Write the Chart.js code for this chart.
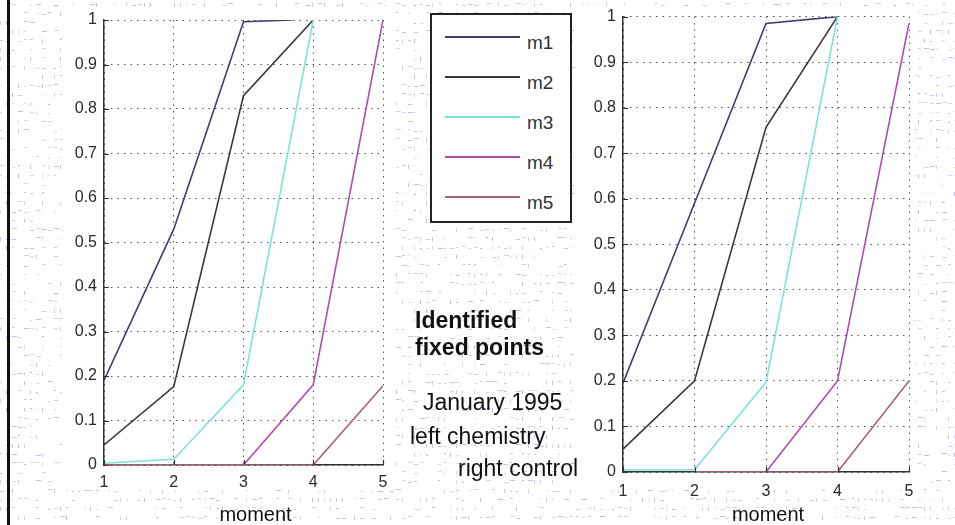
<!DOCTYPE html>
<html>
<head>
<meta charset="utf-8">
<title>Identified fixed points</title>
<script src="https://cdn.jsdelivr.net/npm/chart.js@4.4.1/dist/chart.umd.min.js"></script>
<style>
  html, body { margin: 0; padding: 0; background: #fff; }
  #stage { position: relative; width: 955px; height: 525px; overflow: hidden;
           font-family: "Liberation Sans", Arial, Helvetica, sans-serif; }
  #texture { position: absolute; left: 0; top: 0; }
  .panel { position: absolute; background: #fff; }
  .plot { position: absolute; top: 0; height: 525px; }
  #frameLine { position: absolute; left: 7px; top: 0; width: 3px; height: 525px; background: #111; }
  #legend { position: absolute; left: 430px; top: 13px; width: 138px; height: 206px;
            border: 2px solid #222; background: #fff; }
  #legend .swatch { position: absolute; left: 13px; width: 75px; height: 2px; }
  #legend .name { position: absolute; left: 95px; font-size: 19px; line-height: 1; color: #333; }
  .note { position: absolute; color: #111; font-size: 23px; line-height: 1; white-space: nowrap; }
  .note.bold { font-weight: bold; }
</style>
</head>
<body>
<div id="stage">
  <canvas id="texture" width="955" height="525"></canvas>
  <div id="frameLine"></div>
  <div class="panel" style="left:62px;top:10px;width:333px;height:480px;"></div>
  <div class="panel" style="left:575px;top:6px;width:340px;height:484px;"></div>
  <div class="plot" style="left:0;width:400px;"><canvas id="chemChart"></canvas></div>
  <div class="plot" style="left:560px;width:395px;"><canvas id="ctrlChart"></canvas></div>
  <div id="legend"></div>
  <div class="note bold" style="left:415px;top:309px;">Identified</div>
  <div class="note bold" style="left:415px;top:336px;">fixed points</div>
  <div class="note" style="left:423px;top:391px;">January 1995</div>
  <div class="note" style="left:410px;top:425px;">left chemistry</div>
  <div class="note" style="left:458px;top:457px;">right control</div>
</div>

<script>
// ---- tick labels and series ----
const momentTicks = [1, 2, 3, 4, 5];
const shareTicks = [0, 0.1, 0.2, 0.3, 0.4, 0.5, 0.6, 0.7, 0.8, 0.9, 1];
const seriesNames = ['m1', 'm2', 'm3', 'm4', 'm5'];
const seriesColors = ['#3e3e70', '#383838', '#7ee2dc', '#b04cb0', '#a86470'];
const axisCaption = 'moment';

// left panel: chemistry
const chemM1Moments = [1, 2, 3, 3.7];
const chemM1 = [0.19, 0.53, 0.996, 1.0];
const chemM2Moments = [1, 2, 3, 4];
const chemM2 = [0.045, 0.176, 0.83, 1.0];
const chemM3Moments = [1, 2, 3, 4];
const chemM3 = [0.004, 0.013, 0.18, 1.0];
const chemM4Moments = [1, 2, 3, 4, 5];
const chemM4 = [0, 0, 0, 0.18, 1.0];
const chemM5Moments = [1, 2, 3, 4, 5];
const chemM5 = [0, 0, 0, 0, 0.178];

// right panel: control
const ctrlM1Moments = [1, 2, 3, 4];
const ctrlM1 = [0.195, 0.59, 0.985, 1.0];
const ctrlM2Moments = [1, 2, 3, 4];
const ctrlM2 = [0.05, 0.2, 0.757, 1.0];
const ctrlM3Moments = [1, 2, 3, 4];
const ctrlM3 = [0.005, 0.005, 0.197, 1.0];
const ctrlM4Moments = [2, 3, 4, 5];
const ctrlM4 = [0, 0, 0.2, 0.985];
const ctrlM5Moments = [2, 3, 4, 5];
const ctrlM5 = [0, 0, 0, 0.2];

// ---- faint speckled paper behind the figure ----
(function paintTexture() {
  const g = document.getElementById('texture').getContext('2d');
  for (let y = 3; y < 525; y += 9) {
    for (let x = 0; x < 955; x += 6) {
      const h = Math.sin(x * 12.9898 + y * 78.233) * 43758.5453;
      const f = h - Math.floor(h);
      if (f < 0.5) continue;
      g.fillStyle = 'rgba(110,110,225,' + (0.22 + 0.5 * (f - 0.5)).toFixed(3) + ')';
      const len = 2 + Math.floor(f * 17) % 4;
      const vertical = Math.floor(f * 97) % 4 === 0;
      if (vertical) g.fillRect(x, y, 1, 4);
      else g.fillRect(x, y + Math.floor(f * 31) % 3, len, 1);
    }
  }
})();

// ---- legend ----
(function buildLegend() {
  const box = document.getElementById('legend');
  seriesNames.forEach((name, i) => {
    const rowY = 22 + i * 40;
    const sw = document.createElement('div');
    sw.className = 'swatch';
    sw.style.top = (rowY - 1) + 'px';
    sw.style.background = seriesColors[i];
    box.appendChild(sw);
    const lb = document.createElement('div');
    lb.className = 'name';
    lb.style.top = (rowY - 4) + 'px';
    lb.textContent = name;
    box.appendChild(lb);
  });
})();

// small inward tick marks along both axes
const innerTicks = {
  id: 'innerTicks',
  afterDatasetsDraw(chart) {
    const { ctx, chartArea: a, scales: { x, y } } = chart;
    ctx.save();
    ctx.strokeStyle = '#333';
    ctx.lineWidth = 1.2;
    ctx.beginPath();
    y.ticks.forEach(t => {
      const p = Math.round(y.getPixelForValue(t.value)) + 0.5;
      ctx.moveTo(a.left, p); ctx.lineTo(a.left + 5, p);
    });
    x.ticks.forEach(t => {
      const p = Math.round(x.getPixelForValue(t.value)) + 0.5;
      ctx.moveTo(p, a.bottom); ctx.lineTo(p, a.bottom - 5);
    });
    ctx.stroke();
    ctx.restore();
  }
};

// x-axis caption under the tick labels, with a small horizontal shift
const bottomCaption = {
  id: 'bottomCaption',
  afterDraw(chart, args, opts) {
    const { ctx, chartArea: a } = chart;
    ctx.save();
    ctx.font = '20px "Liberation Sans", Arial, Helvetica, sans-serif';
    ctx.fillStyle = '#111';
    ctx.textAlign = 'center';
    ctx.textBaseline = 'middle';
    ctx.fillText(opts.text, (a.left + a.right) / 2 + opts.shift, opts.y);
    ctx.restore();
  }
};

function pairs(xs, ys) { return xs.map((v, i) => ({ x: v, y: ys[i] })); }

function makeChart(id, groups, geom) {
  const datasets = groups.map((g, i) => ({
    label: seriesNames[i],
    data: pairs(g[0], g[1]),
    borderColor: seriesColors[i],
    borderWidth: 1.6,
    pointRadius: 0,
    tension: 0,
    fill: false,
    order: seriesNames.length - i
  }));
  const tickFont = { family: '"Liberation Sans", Arial, Helvetica, sans-serif', size: 16 };
  const gridStyle = { color: '#555', lineWidth: 1, drawTicks: false };
  const borderStyle = { display: true, color: '#333', width: 1.5, dash: [1.5, 5] };
  return new Chart(document.getElementById(id), {
    type: 'line',
    data: { datasets },
    plugins: [innerTicks, bottomCaption],
    options: {
      responsive: false,
      animation: false,
      devicePixelRatio: 1,
      layout: { padding: { left: 0, top: geom.top, right: geom.right, bottom: 0 } },
      plugins: {
        legend: { display: false },
        tooltip: { enabled: false },
        bottomCaption: { text: axisCaption, shift: geom.captionShift, y: 515 }
      },
      scales: {
        x: {
          type: 'linear', min: 1, max: 5,
          afterBuildTicks: s => { s.ticks = momentTicks.map(v => ({ value: v })); },
          afterFit: s => { s.height = geom.xHeight; },
          ticks: { font: tickFont, color: '#2a2a2a', padding: geom.xPad, maxRotation: 0,
                   callback: v => String(v) },
          grid: gridStyle,
          border: borderStyle
        },
        y: {
          type: 'linear', min: 0, max: 1,
          afterBuildTicks: s => { s.ticks = shareTicks.map(v => ({ value: v })); },
          afterFit: s => { s.width = geom.yWidth; },
          ticks: { font: tickFont, color: '#2a2a2a', padding: 7,
                   callback: v => String(Math.round(v * 10) / 10) },
          grid: gridStyle,
          border: borderStyle
        }
      }
    }
  });
}

const chemCanvas = document.getElementById('chemChart');
chemCanvas.width = 400; chemCanvas.height = 525;
const ctrlCanvas = document.getElementById('ctrlChart');
ctrlCanvas.width = 395; ctrlCanvas.height = 525;

makeChart('chemChart', [
  [chemM1Moments, chemM1], [chemM2Moments, chemM2], [chemM3Moments, chemM3],
  [chemM4Moments, chemM4], [chemM5Moments, chemM5]
], { top: 20, right: 17, yWidth: 104, xHeight: 60, xPad: 8, captionShift: 12 });

makeChart('ctrlChart', [
  [ctrlM1Moments, ctrlM1], [ctrlM2Moments, ctrlM2], [ctrlM3Moments, ctrlM3],
  [ctrlM4Moments, ctrlM4], [ctrlM5Moments, ctrlM5]
], { top: 16, right: 46, yWidth: 63, xHeight: 53, xPad: 10, captionShift: 2 });
</script>
</body>
</html>
